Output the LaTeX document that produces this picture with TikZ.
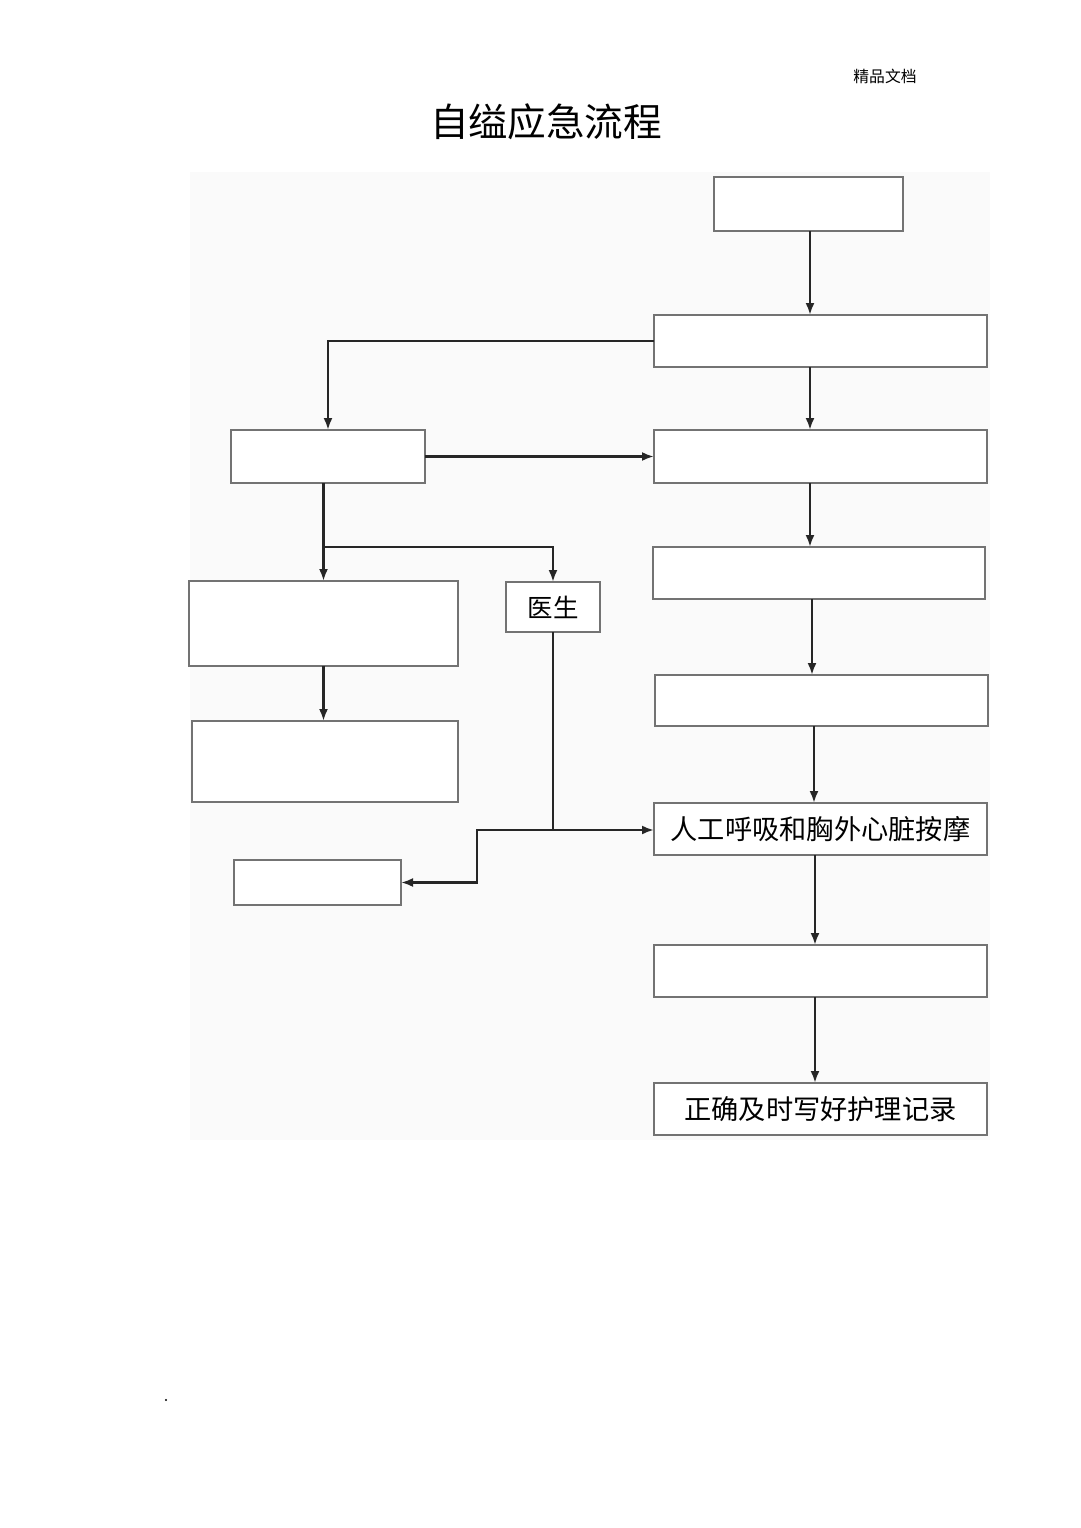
\documentclass[tikz,border=0pt]{standalone}
\usepackage{fontspec}
\newfontfamily\cjk{Noto Sans CJK SC}
\usepackage{tikz}
\usetikzlibrary{arrows.meta}

\begin{document}
\begin{tikzpicture}[x=0.02cm, y=-0.02cm, every node/.style={font=\cjk}, >={Latex[length=2.4mm, width=1.8mm]},
	box/.style 2 args={draw=black!55, line width=1pt, fill=white, inner sep=0pt, outer sep=0pt,
		minimum width=#1*0.02cm, minimum height=#2*0.02cm},
	arr/.style={->, draw=black!85, line width=1.3pt}]
	\useasboundingbox[fill=white] (0,0) rectangle (1080,1528);
	\fill[black!2] (190,172) rectangle (990,1140);
	\node[font=\cjk\fontsize{9}{9}\selectfont] (hdr) at (885,76) {精品文档};
	\node[font=\cjk\fontsize{22}{22}\selectfont] (title) at (546,122) {自缢应急流程};
	% right column
	\node[box={189}{54}] (top) at (808.5,204) {};
	\node[box={333}{52}] (b2) at (820.5,341) {};
	\node[box={333}{53}] (b3) at (820.5,456.5) {};
	\node[box={332}{52}] (b4) at (819,573) {};
	\node[box={333}{51}] (b5) at (821.5,700.5) {};
	\node[box={333}{52}, font=\cjk\fontsize{15.5}{15.5}\selectfont] (b6) at (820.5,829) {人工呼吸和胸外心脏按摩};
	\node[box={333}{52}] (b7) at (820.5,971) {};
	\node[box={333}{52}, font=\cjk\fontsize{15.5}{15.5}\selectfont] (b8) at (820.5,1109) {正确及时写好护理记录};
	% left column
	\node[box={194}{53}] (left1) at (328,456.5) {};
	\node[box={269}{85}] (left2) at (323.5,623.5) {};
	\node[box={266}{81}] (left3) at (325,761.5) {};
	\node[box={167}{45}] (left4) at (317.5,882.5) {};
	\node[box={94}{50}, font=\cjk\fontsize{14.5}{14.5}\selectfont] (doc) at (553,607) {医生};
	% connectors
	\draw[arr] (top.south -| 810,0) -- (b2.north -| 810,0);
	\draw[arr] (b2.west) -| (left1.north);
	\draw[arr] (b2.south -| 810,0) -- (b3.north -| 810,0);
	\draw[arr] (left1.east) -- (b3.west);
	\draw[arr] (b3.south -| 810,0) -- (b4.north -| 810,0);
	\draw[arr] (b4.south -| 812,0) -- (b5.north -| 812,0);
	\draw[arr] (b5.south -| 814,0) -- (b6.north -| 814,0);
	\draw[arr] (b6.south -| 815,0) -- (b7.north -| 815,0);
	\draw[arr] (b7.south -| 815,0) -- (b8.north -| 815,0);
	\coordinate (split) at (left2.north |- 0,547);
	\draw[arr] (left2.north |- left1.south) -- (left2.north);
	\draw[arr] (split) -| (doc.north);
	\draw[arr] (left2.south) -- (left2.south |- left3.north);
	\coordinate (join) at (doc.south |- 0,830);
	\draw[arr] (doc.south) -- (join) -- (join -| b6.west);
	\draw[arr] (join) -- ++(-76,0) |- (left4.east);
	\fill (166,1400) circle (1.2);
\end{tikzpicture}
\end{document}
